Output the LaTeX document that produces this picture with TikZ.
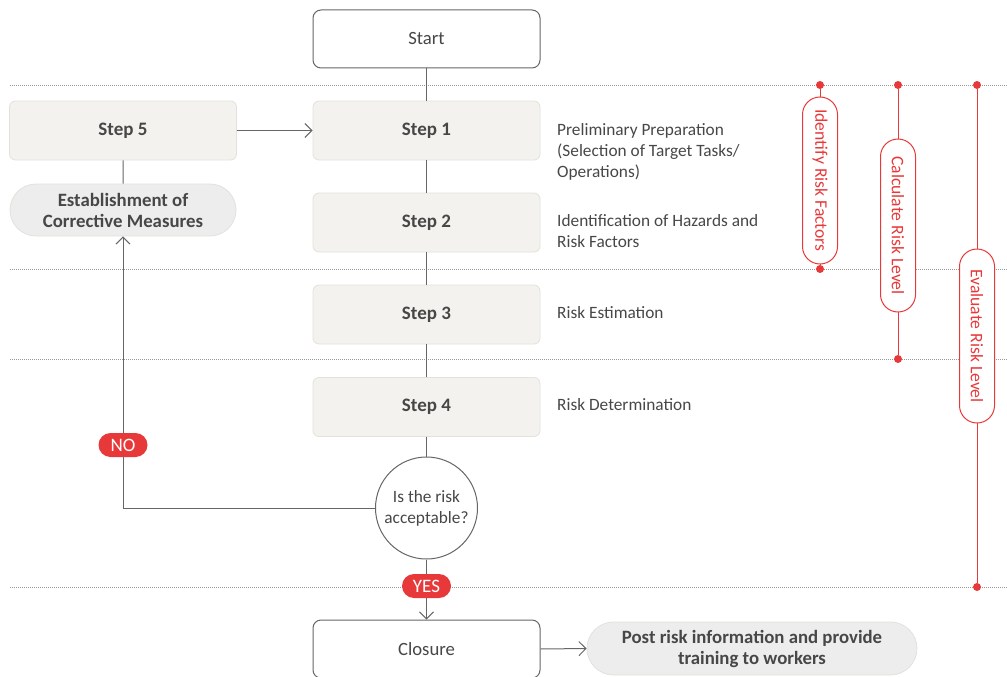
\documentclass[tikz,border=0pt]{standalone}
\usepackage{fontspec}
\setmainfont{Carlito}
\usetikzlibrary{arrows.meta,shapes.misc}

\definecolor{boxfill}{HTML}{F3F2EE}
\definecolor{boxline}{HTML}{E3E1D9}
\definecolor{pillfill}{HTML}{EDEDED}
\definecolor{ink}{HTML}{474747}
\definecolor{wire}{HTML}{666666}
\definecolor{accent}{HTML}{E8393A}
\definecolor{rule}{HTML}{9A9A9A}

\tikzset{
  txt/.style={font=\fontsize{17.3}{21}\selectfont, text=ink},
  stepbox/.style={rectangle, rounded corners=6pt, fill=boxfill, draw=boxline, line width=0.8pt,
    minimum width=227pt, minimum height=59pt, inner sep=0pt, text=ink,
    font=\fontsize{19}{21}\selectfont\bfseries},
  termbox/.style={rectangle, rounded corners=8pt, fill=white, draw=wire, line width=1pt,
    minimum width=227pt, minimum height=58pt, inner sep=0pt, text=ink,
    font=\fontsize{18.7}{21}\selectfont},
  graypill/.style={rounded rectangle, fill=pillfill, draw=boxline, line width=0.8pt,
    inner sep=0pt, text=ink, align=center, font=\fontsize{18.8}{21}\selectfont\bfseries},
  badge/.style={rounded rectangle, fill=accent, text=white, inner sep=0pt,
    minimum width=49pt, minimum height=24pt, font=\fontsize{19}{18}\selectfont},
  phase/.style={rounded rectangle, fill=white, draw=accent, line width=1pt, rotate=-90,
    minimum height=35pt, inner sep=0pt, text=accent, font=\fontsize{17.6}{18}\selectfont},
  pin/.style={circle, fill=accent, inner sep=0pt, minimum size=8pt},
  wireline/.style={draw=wire, line width=1pt},
  arrowed/.style={wireline, -{Straight Barb[length=7pt,width=14pt,line width=1pt]}},
  divider/.style={draw=rule, line width=0.8pt, dash pattern=on 0.9pt off 1.1pt},
  desc/.style={txt, anchor=north west, align=left, inner sep=0pt},
}

\begin{document}
\begin{tikzpicture}[x=1pt, y=-1pt]
\useasboundingbox (0,0) rectangle (1007,677);

% horizontal phase dividers
\foreach \yy in {85,269,359,587} \draw[divider] (10,\yy) -- (1007,\yy);

% main column
\node[termbox] (start) at (426.5,39) {Start};
\node[stepbox] (s1) at (426.5,130.5) {Step 1};
\node[stepbox] (s2) at (426.5,222.5) {Step 2};
\node[stepbox] (s3) at (426.5,314.5) {Step 3};
\node[stepbox] (s4) at (426.5,407) {Step 4};
\node[circle, draw=wire, line width=1pt, fill=white, minimum size=102pt, inner sep=0pt,
      align=center, txt] (q) at (426.5,508) {Is the risk\\acceptable?};
\node[termbox] (close) at (426.5,649) {Closure};

% left column
\node[stepbox] (s5) at (123,130.5) {Step 5};
\node[graypill, minimum width=226pt, minimum height=52pt] (fix) at (123,210)
  {Establishment of\\Corrective Measures};

% follow-up action
\node[graypill, minimum width=330pt, minimum height=53pt] (post) at (752,648.5)
  {Post risk information and provide\\training to workers};

% connectors
\draw[wireline] (start) -- (s1);
\draw[wireline] (s1) -- (s2);
\draw[wireline] (s2) -- (s3);
\draw[wireline] (s3) -- (s4);
\draw[wireline] (s4) -- (q);
\draw[wireline] (s5) -- (fix);
\draw[arrowed] (s5) -- (s1);
\draw[arrowed] (q.south) -- (close.north);
\draw[arrowed] (q.west) -| (fix.south);
\draw[arrowed] (close.east) -- (post.west);

% decision badges
\node[badge] (yes) at (426.5,586) {YES};
\node[badge] (no) at (123,445) {NO};

% step descriptions
\node[desc] (d1) at (557,123) {Preliminary Preparation\\(Selection of Target Tasks/\\Operations)};
\node[desc] (d2) at (557,214) {Identification of Hazards and\\Risk Factors};
\node[desc] (d3) at (557,306) {Risk Estimation};
\node[desc] (d4) at (557,398) {Risk Determination};

% phase brackets on the right
\node[pin] (ia) at (820,85) {};
\node[pin] (ib) at (820,269) {};
\draw[accent, line width=1pt] (ia) -- (ib);
\node[phase, minimum width=167pt] (ident) at (820,180.5) {Identify Risk Factors};

\node[pin] (ca) at (898,85) {};
\node[pin] (cb) at (898,359) {};
\draw[accent, line width=1pt] (ca) -- (cb);
\node[phase, minimum width=173pt] (calc) at (898,225.5) {Calculate Risk Level};

\node[pin] (ea) at (977,85) {};
\node[pin] (eb) at (977,587) {};
\draw[accent, line width=1pt] (ea) -- (eb);
\node[phase, minimum width=174pt] (eval) at (977,336) {Evaluate Risk Level};
\end{tikzpicture}
\end{document}
